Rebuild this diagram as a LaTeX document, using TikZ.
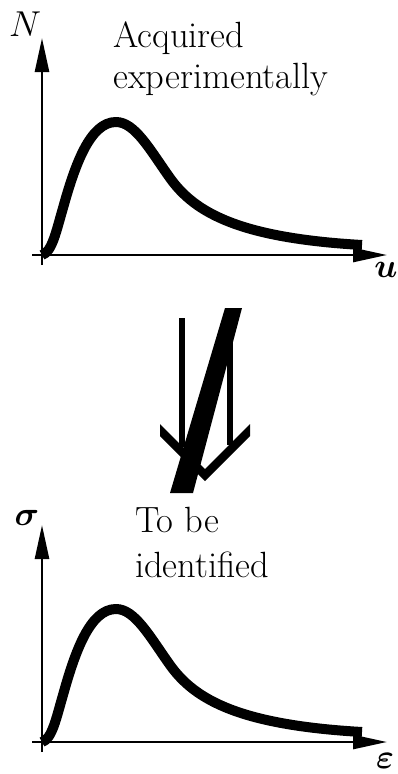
\RequirePackage{fix-cm}
\documentclass[tikz,border=0pt]{standalone}
\usepackage{bm}
\usetikzlibrary{arrows.meta}

\begin{document}
\begin{tikzpicture}[x=1pt,y=-1pt,>={Triangle[length=34pt,width=14pt]},
  axis/.style={->,line width=2.6pt},
  curve/.style={line width=10pt,line join=round},
  note/.style={inner sep=0pt,font=\rmfamily\fontsize{36.5}{41}\selectfont,align=left,anchor=north west},
  var/.style={inner sep=0pt,font=\fontsize{34}{34}\selectfont},
  stem/.style={line width=6.5pt}]
\useasboundingbox (0,0) rectangle (397,774);
% measured panel (top)
\coordinate (ybotA) at (42,265);
\coordinate (ytopA) at (42,38);
\coordinate (xlftA) at (32,255);
\coordinate (xrgtA) at (387,255);
\draw[axis] (ybotA) -- (ytopA);
\draw[axis] (xlftA) -- (xrgtA);
\draw[curve] (42,255) .. controls (52,252) and (56,232) .. (63,208)
  .. controls (75,165) and (90,122) .. (116,122)
  .. controls (135,122) and (150,150) .. (170,178)
  .. controls (195,213) and (240,238) .. (362,245);
\node[inner sep=0pt,font=\fontsize{36}{36}\selectfont] (nlab) at (25,24) {$N$};
\node[var] (ulab) at (386,270) {$\bm{u}$};
\node[note] (acq) at (113,21) {Acquired\\experimentally};
% crossed double arrow
\draw[stem] (182,318) -- (182,447);
\draw[stem] (230,318) -- (230,445);
\fill (160,424) -- (205,469) -- (250,424) -- (250,436) -- (205,481) -- (160,436) -- cycle;
\fill (225,308) -- (242,308) -- (193,493) -- (170,493) -- cycle;
% identified panel (bottom)
\begin{scope}[yshift=-487pt]
\coordinate (ybotB) at (42,265);
\coordinate (ytopB) at (42,38);
\coordinate (xlftB) at (32,255);
\coordinate (xrgtB) at (387,255);
\draw[axis] (ybotB) -- (ytopB);
\draw[axis] (xlftB) -- (xrgtB);
\draw[curve] (42,255) .. controls (52,252) and (56,232) .. (63,208)
  .. controls (75,165) and (90,122) .. (116,122)
  .. controls (135,122) and (150,150) .. (170,178)
  .. controls (195,213) and (240,238) .. (362,245);
\end{scope}
\node[var] (siglab) at (27,518) {$\bm{\sigma}$};
\node[var] (epslab) at (385,761) {$\bm{\varepsilon}$};
\node[note,font=\rmfamily\fontsize{36.5}{45}\selectfont] (ident) at (135,507) {To be\\identified};
\end{tikzpicture}
\end{document}
